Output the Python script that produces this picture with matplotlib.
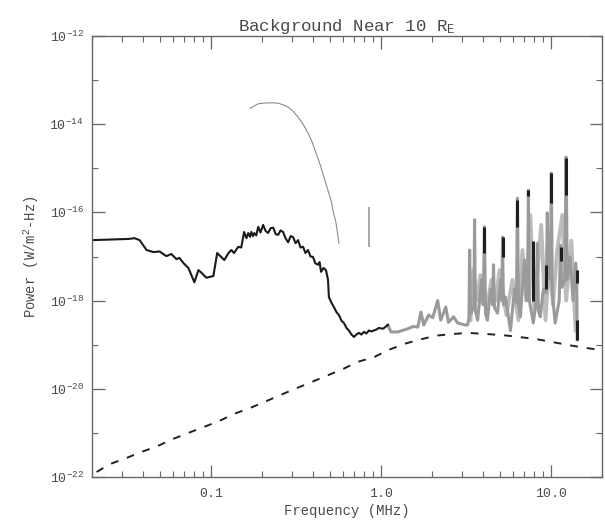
import matplotlib
matplotlib.use("Agg")
import matplotlib.pyplot as plt
import numpy as np
from matplotlib.ticker import FixedLocator, FixedFormatter, NullFormatter

# ---------------- data ----------------
# main measured spectrum (black)
main_freq = [0.020, 0.0328, 0.0356, 0.0381, 0.0419, 0.046, 0.0499, 0.0548, 0.0586, 0.0628,
             0.0653, 0.069, 0.0738, 0.080, 0.0845, 0.088, 0.094, 0.1035, 0.109, 0.115,
             0.120, 0.127, 0.132, 0.137, 0.145, 0.151, 0.157, 0.162, 0.166, 0.170, 0.173,
             0.177, 0.180, 0.185, 0.190, 0.196, 0.203, 0.210, 0.217, 0.225, 0.233, 0.241,
             0.249, 0.257, 0.266, 0.275, 0.285, 0.295, 0.305, 0.315, 0.326, 0.337, 0.349,
             0.360, 0.373, 0.386, 0.399, 0.412, 0.427, 0.436, 0.445, 0.460, 0.476, 0.489,
             0.495, 0.512, 0.530, 0.548, 0.567, 0.587, 0.607, 0.628, 0.649, 0.672, 0.695,
             0.718, 0.743, 0.769, 0.795, 0.823, 0.851, 0.880, 0.910, 0.941, 0.973, 1.03, 1.10]
main_power = [2.35e-17, 2.5e-17, 2.6e-17, 2.35e-17, 1.4e-17, 1.26e-17, 1.3e-17, 1.02e-17, 1.14e-17, 8.7e-18,
              9.3e-18, 7.1e-18, 5.5e-18, 2.6e-18, 4.9e-18, 4.3e-18, 3.3e-18, 3.6e-18, 1.2e-17, 9.8e-18,
              8.3e-18, 1.2e-17, 1.4e-17, 1.2e-17, 1.66e-17, 1.6e-17, 3.6e-17, 2.6e-17, 3.4e-17, 2.8e-17, 3.6e-17,
              2.9e-17, 3.4e-17, 3.0e-17, 4.7e-17, 3.5e-17, 5.2e-17, 3.8e-17, 3.4e-17, 4.4e-17, 4.5e-17, 3.2e-17,
              3.1e-17, 3.9e-17, 3.6e-17, 2.6e-17, 2.1e-17, 2.9e-17, 2.75e-17, 2.0e-17, 2.35e-17, 1.6e-17, 1.66e-17,
              1.2e-17, 1.4e-17, 1.0e-17, 9.8e-18, 7.0e-18, 6.5e-18, 7.5e-18, 4.5e-18, 5.5e-18, 4.9e-18, 2.95e-18,
              1.2e-18, 9.0e-19, 7.1e-19, 5.5e-19, 4.7e-19, 3.5e-19, 3.1e-19, 2.4e-19, 2.1e-19, 1.7e-19, 1.5e-19,
              1.7e-19, 1.85e-19, 1.7e-19, 1.95e-19, 1.8e-19, 2.1e-19, 2.0e-19, 2.1e-19, 2.2e-19, 2.4e-19, 2.3e-19, 2.8e-19]

# continuation of the spectrum (gray), 1.1 - 14 MHz
gray_freq = [1.10, 1.145, 1.258, 1.44, 1.56, 1.65, 1.72, 1.79, 1.91, 2.02, 2.16, 2.25, 2.41, 2.50,
             2.68, 2.83, 3.15, 3.24, 3.30, 3.33, 3.37, 3.45, 3.53, 3.56, 3.60, 3.71, 3.85, 3.91,
             4.00, 4.07, 4.13, 4.24, 4.42, 4.55, 4.60, 4.66, 4.86, 5.06, 5.15, 5.20, 5.26, 5.41,
             5.79, 6.11, 6.28, 6.36, 6.45, 6.62, 6.99, 7.20, 7.30, 7.38, 7.48, 7.89, 8.20, 8.34,
             8.45, 8.67, 9.03, 9.40, 9.53, 9.70, 9.95, 10.07, 10.2, 10.6, 11.2, 11.4, 11.6, 12.1,
             12.3, 12.5, 13.0, 13.5, 14.0, 14.2, 14.3]
gray_power = [2.8e-19, 1.95e-19, 1.95e-19, 2.3e-19, 2.6e-19, 2.5e-19, 5.5e-19, 2.8e-19, 4.7e-19, 4.1e-19,
              1.0e-18, 3.6e-19, 7.1e-19, 3.2e-19, 4.3e-19, 3.1e-19, 2.8e-19, 2.8e-19, 4.0e-19, 1.4e-17,
              5.0e-19, 6.0e-19, 8.0e-19, 6.8e-17, 6.0e-19, 3.6e-19, 1.5e-18, 2.95e-18, 8.0e-19, 4.7e-17,
              5.0e-19, 3.6e-19, 1.8e-18, 8.0e-19, 6.5e-18, 7.0e-19, 5.2e-19, 2.95e-18, 1.0e-18, 2.75e-17,
              8.0e-19, 1.2e-18, 2.1e-19, 1.8e-18, 9.0e-19, 2.1e-16, 9.0e-19, 4.3e-19, 8.3e-18, 1.0e-18,
              1.5e-18, 3.2e-16, 1.0e-18, 3.1e-19, 1.0e-18, 2.0e-17, 6.0e-19, 4.3e-19, 1.8e-18, 1.5e-18,
              9.8e-17, 4.0e-18, 3.0e-18, 7.8e-16, 1.5e-18, 3.1e-19, 1.0e-18, 1.8e-17, 2.0e-18, 3.0e-18,
              1.8e-15, 3.0e-18, 9.8e-18, 1.0e-18, 7.1e-18, 3.0e-18, 1.3e-19]

# second overlapping gray trace in the spiky band
grayb_freq = [3.37, 3.50, 3.67, 3.85, 4.18, 4.48, 4.74, 4.99, 5.48, 5.95, 6.45, 6.81, 7.17, 7.57,
              8.0, 8.78, 9.3, 9.8, 10.3, 10.9, 11.7, 12.3, 13.2, 14.0]
grayb_power = [3.6e-19, 4.9e-18, 1.0e-18, 3.8e-18, 6.2e-19, 2.95e-18, 1.0e-18, 4.9e-18, 4.7e-19, 2.95e-18,
               3.6e-19, 1.4e-17, 1.0e-18, 8.7e-17, 6.2e-19, 5.2e-17, 3.6e-19, 8.3e-18, 8.0e-19, 1.4e-17,
               8.7e-17, 1.0e-18, 2.3e-17, 2.1e-19]

# dark segments on the spikes: frequency, upper, lower power
seg_freq = [4.07, 5.20, 6.36, 7.38, 7.89, 9.4, 10.07, 11.5, 12.3, 14.2, 14.3]
seg_top = [4.7e-17, 2.75e-17, 1.9e-16, 3.2e-16, 2.3e-17, 6.5e-18, 7.8e-16, 1.6e-17, 1.75e-15, 5.0e-18, 3.6e-19]
seg_bot = [1.2e-17, 9.8e-18, 4.7e-17, 2.3e-16, 1.0e-18, 1.8e-18, 1.6e-16, 8.0e-18, 2.5e-16, 2.5e-18, 1.3e-19]

# thin gray arc
arc_freq = [0.170, 0.180, 0.190, 0.203, 0.217, 0.233, 0.249, 0.266, 0.285, 0.305, 0.326, 0.349,
            0.373, 0.395, 0.416, 0.440, 0.463, 0.487, 0.509, 0.528, 0.545, 0.567]
arc_power = [2.3e-14, 2.6e-14, 2.9e-14, 3.0e-14, 3.05e-14, 3.05e-14, 3.0e-14, 2.75e-14, 2.45e-14, 1.95e-14,
             1.45e-14, 1.0e-14, 6.3e-15, 3.9e-15, 2.2e-15, 1.2e-15, 6.3e-16, 3.3e-16, 1.9e-16, 9.5e-17,
             5.8e-17, 2.0e-17]

# small isolated mark near 0.85 MHz
mark_freq = [0.85]
mark_top = [1.3e-16]
mark_bot = [1.66e-17]

# dashed background model
bg_freq = [0.0213, 0.0254, 0.0319, 0.0391, 0.0485, 0.0594, 0.0738, 0.0904, 0.112, 0.137, 0.168,
           0.206, 0.256, 0.313, 0.388, 0.476, 0.598, 0.733, 0.910, 1.11, 1.38, 1.69, 2.10, 2.64,
           3.28, 4.13, 5.20, 6.45, 8.11, 10.2, 12.7, 15.9, 20.0]
bg_power = [1.3e-22, 1.95e-22, 2.7e-22, 3.7e-22, 5.0e-22, 7.2e-22, 1.0e-21, 1.35e-21, 1.86e-21, 2.7e-21,
            3.6e-21, 5.0e-21, 7.2e-21, 1.0e-20, 1.4e-20, 1.95e-20, 2.8e-20, 4.1e-20, 5.2e-20, 7.6e-20,
            1.05e-19, 1.3e-19, 1.6e-19, 1.75e-19, 1.85e-19, 1.75e-19, 1.65e-19, 1.5e-19, 1.35e-19,
            1.15e-19, 9.8e-20, 8.5e-20, 7.5e-20]

x_ticks = [0.1, 1.0, 10.0]
x_ticklabels = ["0.1", "1.0", "10.0"]
y_ticks = [1e-22, 1e-20, 1e-18, 1e-16, 1e-14, 1e-12]
y_ticklabels = [r"$\mathregular{10^{-22}}$", r"$\mathregular{10^{-20}}$", r"$\mathregular{10^{-18}}$",
                r"$\mathregular{10^{-16}}$", r"$\mathregular{10^{-14}}$", r"$\mathregular{10^{-12}}$"]

# ---------------- plot ----------------
FONT = "Liberation Mono"
TXT = "#4a4a4a"
plt.rcParams["font.family"] = [FONT, "DejaVu Sans"]

fig = plt.figure(figsize=(6.05, 5.26), dpi=100)
ax = fig.add_axes([92 / 605, 1 - 477 / 526, (602 - 92) / 605, (477 - 36) / 526])
ax.set_xscale("log")
ax.set_yscale("log")
ax.set_xlim(0.02, 20.0)
ax.set_ylim(1e-22, 1e-12)

ax.plot(arc_freq, arc_power, color="#8c8c8c", lw=0.8)
ax.vlines(mark_freq, mark_bot, mark_top, color="#9a9a9a", lw=1.2)
ax.plot(bg_freq, bg_power, color="#222222", lw=1.4, dashes=(4.0, 4.6))
ax.plot(grayb_freq, grayb_power, color="#bcbcbc", lw=2.8)
ax.plot(gray_freq, gray_power, color="#9a9a9a", lw=2.2)
ax.vlines(seg_freq, seg_bot, seg_top, color="#1e1e1e", lw=2.2)
ax.plot(main_freq, main_power, color="#1a1a1a", lw=1.5)

ax.xaxis.set_major_locator(FixedLocator(x_ticks))
ax.xaxis.set_major_formatter(FixedFormatter(x_ticklabels))
x_minor = [m * 10.0 ** e for e in (-2, -1, 0, 1) for m in range(2, 10)]
ax.xaxis.set_minor_locator(FixedLocator(x_minor))
ax.xaxis.set_minor_formatter(NullFormatter())
ax.yaxis.set_major_locator(FixedLocator(y_ticks))
ax.yaxis.set_major_formatter(FixedFormatter(y_ticklabels))
ax.yaxis.set_minor_locator(FixedLocator([1e-21, 1e-19, 1e-17, 1e-15, 1e-13]))
ax.yaxis.set_minor_formatter(NullFormatter())

ax.tick_params(which="both", direction="in", top=True, right=True, colors="#666666",
               labelcolor=TXT, labelsize=9.5)
ax.tick_params(which="major", length=9, width=0.9)
ax.tick_params(which="minor", length=4.5, width=0.8)
ax.tick_params(axis="x", pad=8)
ax.tick_params(axis="y", pad=6)
for s in ax.spines.values():
    s.set_color("#666666")
    s.set_linewidth(1.0)

ax.set_xlabel("Frequency (MHz)", color=TXT, fontsize=10, labelpad=3)
ax.set_ylabel(r"Power (W/m$\mathregular{^2}$-Hz)", color=TXT, fontsize=10, labelpad=6)
ax.set_title(r"Background Near 10 R$\mathregular{_E}$", color=TXT, fontsize=12.5, pad=2)

fig.savefig("out.png", dpi=100)
